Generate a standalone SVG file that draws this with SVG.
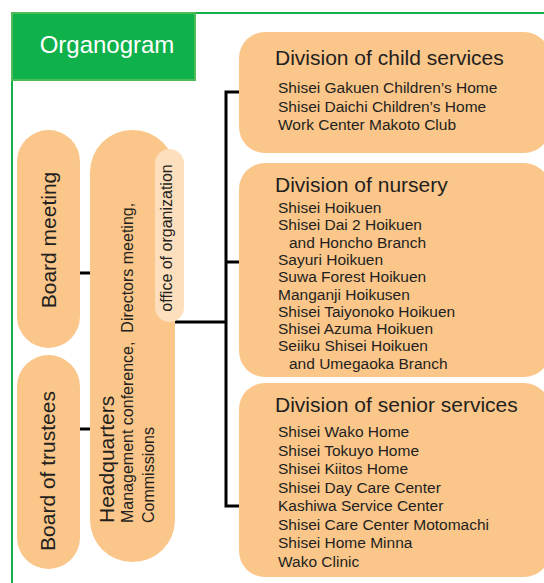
<svg xmlns="http://www.w3.org/2000/svg" width="544" height="583" viewBox="0 0 544 583">
<style>
text{font-family:"Liberation Sans",Arial,sans-serif;fill:#231f20}
.pill{fill:#fbc68a}
.light{fill:#fddfbd}
.big{font-size:21px}
.mid{font-size:16px}
.item{font-size:15.5px}
.conn{stroke:#000;stroke-width:3;fill:none}
</style>
<rect width="544" height="583" fill="#fff"/>
<g id="frame">
<path d="M12 583 V13 H544" fill="none" stroke="#12b04b" stroke-width="2"/>
</g>
<g id="title">
<rect x="12" y="13" width="183" height="67" fill="#0fb14b" stroke="#4cbb58" stroke-width="2"/>
<text x="107" y="52.5" text-anchor="middle" style="font-size:24px;fill:#fff">Organogram</text>
</g>
<g id="connectors">
<path class="conn" d="M239 92 H226 V506 H239 M226 262 H239 M175 322 H226"/>
<path class="conn" d="M80 273 H90 M80 429 H90"/>
</g>
<g id="board-meeting">
<rect class="pill" x="17" y="130" width="63" height="218" rx="31.5"/>
<text class="big" transform="translate(56,240) rotate(-90)" text-anchor="middle">Board meeting</text>
</g>
<g id="board-of-trustees">
<rect class="pill" x="17" y="355" width="63" height="214" rx="31.5"/>
<text class="big" transform="translate(55,471) rotate(-90)" text-anchor="middle">Board of trustees</text>
</g>
<g id="headquarters">
<rect class="pill" x="90" y="130" width="85" height="432" rx="42"/>
<text class="big" transform="translate(114,523) rotate(-90)">Headquarters</text>
<text class="mid" transform="translate(133,523) rotate(-90)">Management conference,&#160; Directors meeting,</text>
<text class="mid" transform="translate(154,523) rotate(-90)">Commissions</text>
</g>
<g id="office">
<rect class="light" x="155" y="149" width="29" height="173" rx="14.5"/>
<text class="mid" transform="translate(172,238) rotate(-90)" text-anchor="middle">office of organization</text>
</g>
<g id="child-services">
<rect class="pill" x="239" y="32" width="311" height="121" rx="26"/>
<text class="big" x="275" y="65">Division of child services</text>
<text class="item" x="278" y="93">Shisei Gakuen Children’s Home</text>
<text class="item" x="278" y="111.5">Shisei Daichi Children’s Home</text>
<text class="item" x="278" y="130">Work Center Makoto Club</text>
</g>
<g id="nursery">
<rect class="pill" x="239" y="163" width="311" height="214" rx="26"/>
<text class="big" x="275" y="192">Division of nursery</text>
<text class="item" x="278" y="213">Shisei Hoikuen</text>
<text class="item" x="278" y="230.3">Shisei Dai 2 Hoikuen</text>
<text class="item" x="289" y="247.6">and Honcho Branch</text>
<text class="item" x="278" y="264.9">Sayuri Hoikuen</text>
<text class="item" x="278" y="282.2">Suwa Forest Hoikuen</text>
<text class="item" x="278" y="299.5">Manganji Hoikusen</text>
<text class="item" x="278" y="316.8">Shisei Taiyonoko Hoikuen</text>
<text class="item" x="278" y="334.1">Shisei Azuma Hoikuen</text>
<text class="item" x="278" y="351.4">Seiiku Shisei Hoikuen</text>
<text class="item" x="289" y="368.7">and Umegaoka Branch</text>
</g>
<g id="senior-services">
<rect class="pill" x="239" y="383" width="311" height="194" rx="26"/>
<text class="big" x="275" y="412">Division of senior services</text>
<text class="item" x="278" y="437">Shisei Wako Home</text>
<text class="item" x="278" y="455.6">Shisei Tokuyo Home</text>
<text class="item" x="278" y="474.1">Shisei Kiitos Home</text>
<text class="item" x="278" y="492.7">Shisei Day Care Center</text>
<text class="item" x="278" y="511.3">Kashiwa Service Center</text>
<text class="item" x="278" y="529.9">Shisei Care Center Motomachi</text>
<text class="item" x="278" y="548.4">Shisei Home Minna</text>
<text class="item" x="278" y="567">Wako Clinic</text>
</g>
</svg>
